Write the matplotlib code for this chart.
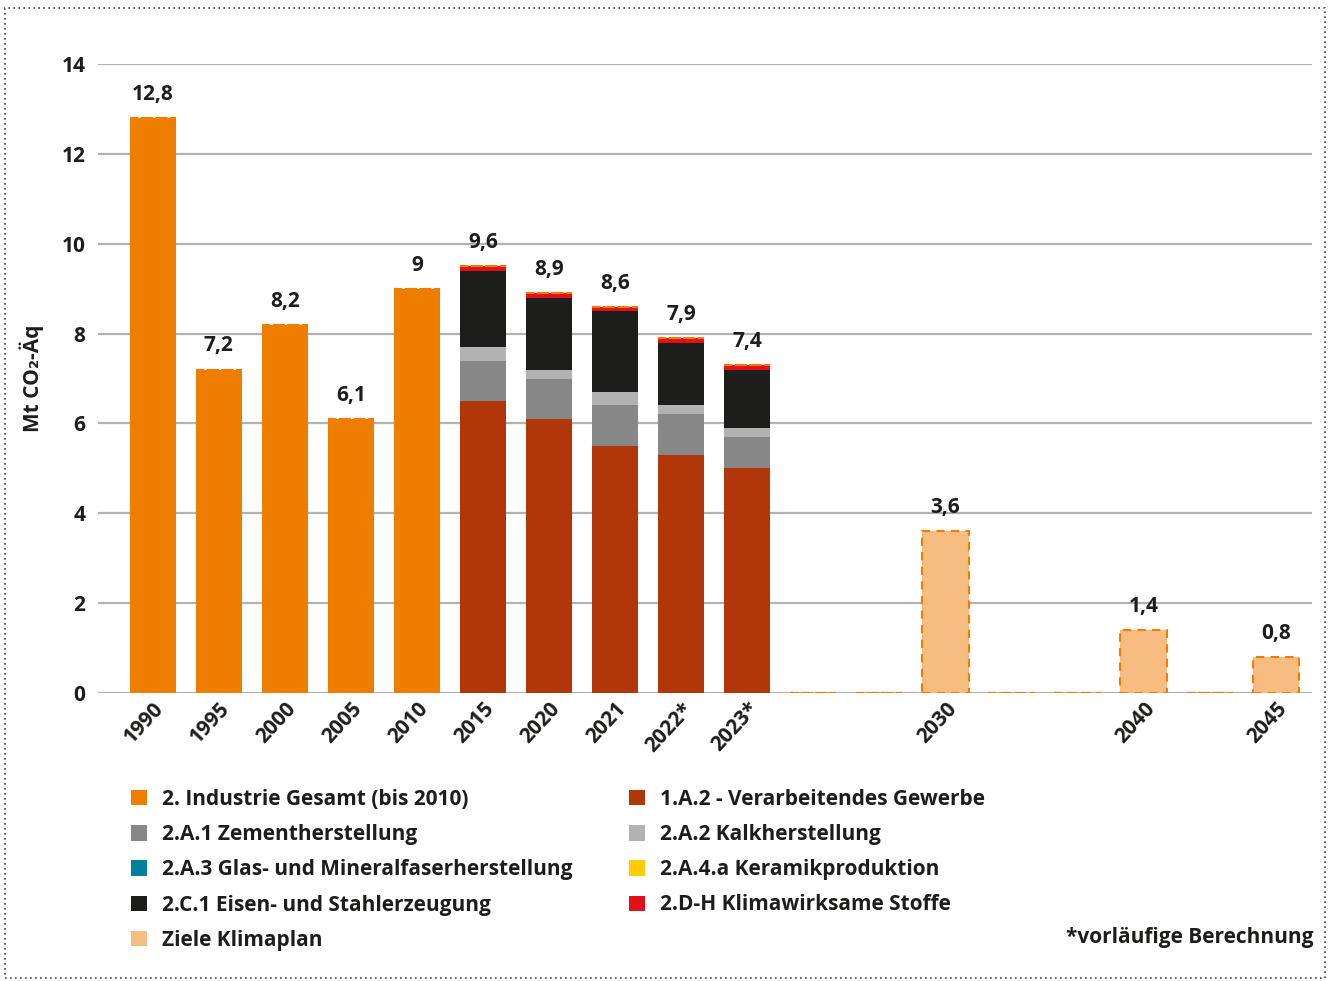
import matplotlib
matplotlib.use("Agg")
import matplotlib.pyplot as plt
from matplotlib.patches import Patch, Rectangle
import numpy as np

plt.rcParams['font.family'] = ['Open Sans', 'DejaVu Sans']
plt.rcParams['font.weight'] = 'bold'

categories = ["1990", "1995", "2000", "2005", "2010", "2015", "2020", "2021", "2022*", "2023*",
              "", "", "2030", "", "", "2040", "", "2045"]

# Mt CO2-Aeq per series (0 where the series is not shown)
industrie_gesamt = [12.8, 7.2, 8.2, 6.1, 9.0, 0, 0, 0, 0, 0, 0, 0, 0, 0, 0, 0, 0, 0]
verarbeitendes   = [0, 0, 0, 0, 0, 6.5, 6.1, 5.5, 5.3, 5.0, 0, 0, 0, 0, 0, 0, 0, 0]
zement           = [0, 0, 0, 0, 0, 0.9, 0.9, 0.9, 0.9, 0.7, 0, 0, 0, 0, 0, 0, 0, 0]
kalk             = [0, 0, 0, 0, 0, 0.3, 0.2, 0.3, 0.2, 0.2, 0, 0, 0, 0, 0, 0, 0, 0]
glas             = [0, 0, 0, 0, 0, 0.0, 0.0, 0.0, 0.0, 0.0, 0, 0, 0, 0, 0, 0, 0, 0]
keramik          = [0, 0, 0, 0, 0, 0.0, 0.0, 0.0, 0.0, 0.0, 0, 0, 0, 0, 0, 0, 0, 0]
stahl            = [0, 0, 0, 0, 0, 1.7, 1.6, 1.8, 1.4, 1.3, 0, 0, 0, 0, 0, 0, 0, 0]
klimastoffe      = [0, 0, 0, 0, 0, 0.1, 0.1, 0.1, 0.1, 0.1, 0, 0, 0, 0, 0, 0, 0, 0]
ziele            = [0, 0, 0, 0, 0, 0, 0, 0, 0, 0, 0, 0, 3.6, 0, 0, 1.4, 0, 0.8]

value_labels = ["12,8", "7,2", "8,2", "6,1", "9", "9,6", "8,9", "8,6", "7,9", "7,4",
                "", "", "3,6", "", "", "1,4", "", "0,8"]

series = [
    ("2. Industrie Gesamt (bis 2010)", industrie_gesamt, "#ef7d00"),
    ("1.A.2 - Verarbeitendes Gewerbe", verarbeitendes, "#b1360a"),
    ("2.A.1 Zementherstellung", zement, "#878787"),
    ("2.A.2 Kalkherstellung", kalk, "#b2b2b2"),
    ("2.A.3 Glas- und Mineralfaserherstellung", glas, "#00809f"),
    ("2.A.4.a Keramikproduktion", keramik, "#ffcc00"),
    ("2.C.1 Eisen- und Stahlerzeugung", stahl, "#1d1d1b"),
    ("2.D-H Klimawirksame Stoffe", klimastoffe, "#e2101b"),
]
ziele_color = "#f6bc80"
ziele_edge = "#ef7d00"
text_color = "#1d1d1b"
fs = 15

fig = plt.figure(figsize=(13.3, 9.81), dpi=100)
ax = fig.add_axes([98 / 1330, 1 - 693 / 981, (1312 - 98) / 1330, 629 / 981])

x = np.arange(len(categories))
width = 0.7
bottom = np.zeros(len(categories))
for name, vals, col in series:
    vals = np.array(vals, dtype=float)
    mask = vals > 0
    ax.bar(x[mask], vals[mask], width, bottom=bottom[mask], color=col, linewidth=0, zorder=3)
    bottom += vals

# climate-plan targets (and zero placeholders) with dashed orange outline
zvals = np.array(ziele, dtype=float)
ax.bar(x, zvals, width, bottom=bottom, color=ziele_color, edgecolor=ziele_edge,
       linewidth=1.5, linestyle=(0, (4, 3)), zorder=4)

totals = bottom + zvals
for xi, t, lab in zip(x, totals, value_labels):
    if lab:
        ax.annotate(lab, (xi, t), xytext=(0, 13), textcoords="offset points",
                    ha="center", va="baseline", fontsize=fs, color=text_color,
                    fontweight="bold")

ax.set_ylim(0, 14)
ax.set_xlim(-0.83, 17.55)
ax.set_yticks(range(0, 15, 2))
ax.set_xticks(x)
ax.set_xticklabels(categories, rotation=47, ha="right", va="top",
                   rotation_mode="anchor", fontsize=fs, color=text_color)
ax.tick_params(axis="x", length=0, pad=4)
ax.tick_params(axis="y", length=0, pad=9, labelsize=fs, labelcolor=text_color)
for s in ax.spines.values():
    s.set_visible(False)
ax.yaxis.grid(True, color="#b2b2b2", linewidth=1.6)
ax.set_axisbelow(True)
ax.set_ylabel("Mt CO₂-Äq", fontsize=fs, color=text_color, fontweight="bold")
ax.yaxis.set_label_coords(-54 / 1214, 0.5)

handles = [Patch(facecolor=c, edgecolor="none", label=n) for n, v, c in series]
h_ziele = Patch(facecolor=ziele_color, edgecolor="none", label="Ziele Klimaplan")
col1 = [handles[0], handles[2], handles[4], handles[6], h_ziele]
col2 = [handles[1], handles[3], handles[5], handles[7]]
leg_kw = dict(frameon=False, fontsize=fs, handlelength=0.75, handleheight=0.75,
              handletextpad=0.75, labelspacing=0.68, borderaxespad=0, borderpad=0,
              labelcolor=text_color, loc="upper left")
fig.legend(handles=col1, bbox_to_anchor=(131 / 1330, 1 - 789 / 981), **leg_kw)
fig.legend(handles=col2, bbox_to_anchor=(629 / 1330, 1 - 789 / 981), **leg_kw)

fig.text(1313 / 1330, 1 - 938 / 981, "*vorläufige Berechnung", ha="right", va="center",
         fontsize=fs, color=text_color, fontweight="bold")

fig.add_artist(Rectangle((5 / 1330, 3 / 981), 1320 / 1330, 970 / 981, transform=fig.transFigure,
                         fill=False, edgecolor="#444444", linewidth=1.2, linestyle=(0, (1, 2))))

fig.savefig("out.png", dpi=100)
